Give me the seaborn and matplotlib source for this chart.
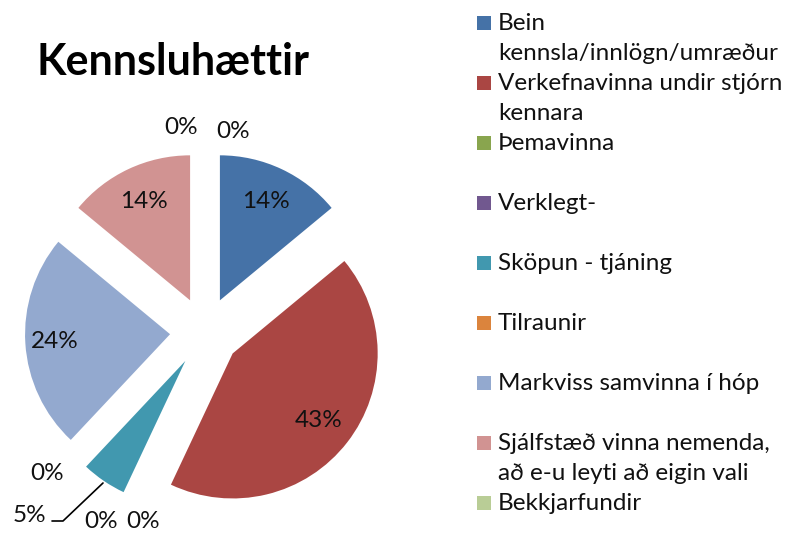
import numpy as np
import matplotlib
matplotlib.use("Agg")
import matplotlib.pyplot as plt
import matplotlib.patches as mpatches
import seaborn as sns

categories = [
    "Bein\nkennsla/innlögn/umræður",
    "Verkefnavinna undir stjórn\nkennara",
    "Þemavinna",
    "Verklegt-",
    "Sköpun - tjáning",
    "Tilraunir",
    "Markviss samvinna í hóp",
    "Sjálfstæð vinna nemenda,\nað e-u leyti að eigin vali",
    "Bekkjarfundir",
]
shares = [14, 43, 0, 0, 5, 0, 24, 14, 0]
colors = ["#4572A7", "#AA4643", "#89A54E", "#71588F", "#4198AF",
          "#DB843D", "#93A9CF", "#D19392", "#B9CD96"]

sns.set_theme(style="white")
plt.rcParams["font.family"] = ["Lato", "DejaVu Sans"]
palette = sns.color_palette(colors)

W, H = 787, 534
fig = plt.figure(figsize=(W / 100, H / 100), dpi=100)
ax = fig.add_axes([0, 0, 1, 1])

cx, cy, R, gap = 205, H - 332, 145, 35
wedges, _ = ax.pie(shares, colors=palette, startangle=90, counterclock=False,
                   radius=R, center=(cx, cy), explode=[gap] * len(shares),
                   wedgeprops=dict(linewidth=0), frame=True)
ax.set_xlim(0, W)
ax.set_ylim(0, H)
ax.axis("off")

fs = 17.5

# percentage labels for the big slices, placed along each slice bisector
for w, v in zip(wedges, shares):
    if v < 10:
        continue
    mid = np.deg2rad((w.theta1 + w.theta2) / 2)
    d = 0.8 * R if 20 < v < 30 else 0.75 * R
    x = w.center[0] + d * np.cos(mid)
    y = w.center[1] + d * np.sin(mid)
    ax.text(x, y, f"{v}%", ha="center", va="center", fontsize=fs, color="#111111")

# small / empty slices: labels sit outside, Excel style
ax.text(29, H - 515, "5%", ha="center", va="center", fontsize=fs, color="#111111")
ax.plot([52, 63, 103], [H - 521, H - 521, H - 483], color="black", lw=1.2)
for x, y in [(47, 473), (101, 521), (143, 521), (181, 128), (233, 132)]:
    ax.text(x, H - y, "0%", ha="center", va="center", fontsize=fs, color="#111111")

ax.text(37, H - 62, "Kennsluhættir", ha="left", va="center", fontsize=31,
        fontweight="bold", color="black")

# legend
for i, (lab, col) in enumerate(zip(categories, palette)):
    ly = H - (23 + 60 * i)
    ax.add_patch(mpatches.Rectangle((477, ly - 7), 14, 14, color=col, lw=0))
    ax.text(498, ly + 10, lab, ha="left", va="top", fontsize=fs,
            linespacing=1.55, color="#111111")

fig.savefig("out.png", dpi=100)
